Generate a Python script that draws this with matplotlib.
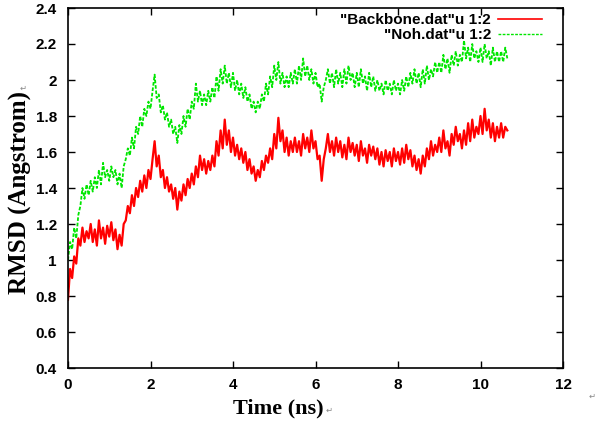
import numpy as np
import matplotlib
matplotlib.use("Agg")
import matplotlib.pyplot as plt
from matplotlib.lines import Line2D

# RMSD, one value every 0.05 ns from t = 0
dt = 0.05
backbone = [
    0.78, 0.95, 0.90, 1.02, 0.98, 1.12, 1.08, 1.18, 1.10, 1.16,
    1.12, 1.20, 1.10, 1.17, 1.08, 1.22, 1.12, 1.18, 1.09, 1.19,
    1.13, 1.21, 1.11, 1.17, 1.06, 1.14, 1.08, 1.20, 1.22, 1.30,
    1.26, 1.36, 1.30, 1.40, 1.35, 1.44, 1.38, 1.47, 1.40, 1.50,
    1.45, 1.56, 1.66, 1.52, 1.58, 1.46, 1.50, 1.40, 1.46, 1.38,
    1.42, 1.34, 1.40, 1.28, 1.38, 1.33, 1.42, 1.36, 1.45, 1.40,
    1.48, 1.42, 1.52, 1.46, 1.58, 1.50, 1.56, 1.48, 1.55, 1.50,
    1.58, 1.52, 1.66, 1.58, 1.72, 1.62, 1.78, 1.64, 1.72, 1.60,
    1.68, 1.58, 1.64, 1.56, 1.62, 1.54, 1.60, 1.50, 1.56, 1.48,
    1.52, 1.44, 1.50, 1.46, 1.55, 1.50, 1.58, 1.54, 1.62, 1.56,
    1.70, 1.62, 1.79, 1.66, 1.72, 1.60, 1.68, 1.58, 1.66, 1.60,
    1.68, 1.60, 1.66, 1.58, 1.70, 1.62, 1.68, 1.60, 1.72, 1.62,
    1.66, 1.56, 1.58, 1.44, 1.56, 1.62, 1.70, 1.60, 1.66, 1.58,
    1.68, 1.60, 1.66, 1.57, 1.64, 1.56, 1.68, 1.60, 1.65, 1.58,
    1.64, 1.55, 1.66, 1.58, 1.62, 1.54, 1.64, 1.58, 1.63, 1.56,
    1.62, 1.53, 1.60, 1.52, 1.61, 1.55, 1.60, 1.52, 1.62, 1.55,
    1.60, 1.53, 1.62, 1.54, 1.64, 1.56, 1.61, 1.52, 1.58, 1.50,
    1.56, 1.48, 1.58, 1.52, 1.62, 1.56, 1.66, 1.58, 1.64, 1.60,
    1.68, 1.60, 1.72, 1.62, 1.66, 1.58, 1.70, 1.64, 1.74, 1.66,
    1.70, 1.62, 1.72, 1.64, 1.76, 1.66, 1.78, 1.68, 1.74, 1.70,
    1.80, 1.70, 1.84, 1.72, 1.78, 1.68, 1.76, 1.66, 1.74, 1.68,
    1.76, 1.68, 1.74, 1.72,
]
noh = [
    1.00, 1.10, 1.06, 1.18, 1.12, 1.25, 1.30, 1.40, 1.34, 1.42,
    1.36, 1.44, 1.38, 1.46, 1.40, 1.50, 1.42, 1.54, 1.46, 1.50,
    1.44, 1.52, 1.46, 1.50, 1.42, 1.48, 1.40, 1.52, 1.56, 1.62,
    1.58, 1.68, 1.62, 1.74, 1.70, 1.80, 1.74, 1.84, 1.80, 1.88,
    1.84, 1.94, 2.03, 1.90, 1.92, 1.82, 1.86, 1.78, 1.82, 1.74,
    1.78, 1.70, 1.74, 1.65, 1.75, 1.70, 1.80, 1.74, 1.84, 1.78,
    1.88, 1.84, 1.98, 1.88, 1.94, 1.86, 1.92, 1.86, 1.94, 1.88,
    1.96, 1.90, 2.02, 1.94, 2.06, 1.98, 2.08, 1.98, 2.04, 1.96,
    2.04, 1.94, 2.00, 1.92, 1.98, 1.90, 1.96, 1.88, 1.92, 1.84,
    1.88, 1.82, 1.88, 1.84, 1.92, 1.88, 1.98, 1.92, 2.02, 1.96,
    2.08, 2.00, 2.10, 1.98, 2.04, 1.96, 2.02, 1.96, 2.04, 1.98,
    2.06, 1.98, 2.08, 2.00, 2.12, 2.02, 2.08, 2.00, 2.06, 1.98,
    2.04, 1.96, 1.98, 1.88, 1.96, 2.00, 2.06, 1.98, 2.04, 1.96,
    2.06, 1.98, 2.04, 1.96, 2.06, 1.98, 2.08, 2.00, 2.04, 1.96,
    2.04, 1.96, 2.06, 1.98, 2.02, 1.94, 2.04, 1.96, 2.02, 1.94,
    2.00, 1.94, 1.98, 1.92, 2.00, 1.94, 1.98, 1.92, 2.00, 1.94,
    1.98, 1.92, 2.00, 1.94, 2.02, 1.96, 2.04, 1.98, 2.06, 1.98,
    2.04, 1.96, 2.06, 1.98, 2.08, 2.00, 2.06, 2.02, 2.10, 2.04,
    2.10, 2.04, 2.14, 2.06, 2.12, 2.04, 2.14, 2.08, 2.16, 2.08,
    2.14, 2.10, 2.22, 2.12, 2.18, 2.10, 2.20, 2.12, 2.16, 2.10,
    2.18, 2.10, 2.20, 2.12, 2.16, 2.08, 2.18, 2.10, 2.16, 2.10,
    2.16, 2.10, 2.18, 2.12,
]
labels = ['"Backbone.dat"u 1:2', '"Noh.dat"u 1:2']
xticks = [0, 2, 4, 6, 8, 10, 12]
yticks = [0.4, 0.6, 0.8, 1.0, 1.2, 1.4, 1.6, 1.8, 2.0, 2.2, 2.4]
yticklabels = ["0.4", "0.6", "0.8", "1", "1.2", "1.4", "1.6", "1.8", "2", "2.2", "2.4"]

red = "#ff0000"
green = "#00e600"

t_b = np.arange(len(backbone)) * dt
t_n = np.arange(len(noh)) * dt

fig = plt.figure(figsize=(6, 4.3), dpi=100)
ax = fig.add_axes([68 / 600, 62 / 430, 495 / 600, 360 / 430])

ax.plot(t_b, backbone, color=red, lw=1.6)
ax.plot(t_n, noh, color=green, lw=1.3, ls=(0, (2, 1)))

ax.set_xlim(0, 12)
ax.set_ylim(0.4, 2.4)
ax.set_xticks(xticks)
ax.set_xticklabels([str(v) for v in xticks])
ax.set_yticks(yticks)
ax.set_yticklabels(yticklabels)
ax.tick_params(direction="in", top=True, right=True, length=5, width=1)
ax.tick_params(axis="y", pad=8)
ax.tick_params(axis="x", pad=7)
for lab in ax.get_xticklabels() + ax.get_yticklabels():
    lab.set_fontfamily("Liberation Sans")
    lab.set_fontweight("bold")
    lab.set_fontsize(11)
for sp in ax.spines.values():
    sp.set_linewidth(1.2)

handles = [Line2D([], [], color=red, lw=1.2),
           Line2D([], [], color=green, lw=1.0, ls=(0, (2, 1)))]
ax.legend(handles, labels, loc="upper right", bbox_to_anchor=(0.958, 0.985),
          frameon=False, markerfirst=False, handlelength=2.9, handletextpad=0.45,
          labelspacing=0.05, borderpad=0, borderaxespad=0,
          prop={"family": "Liberation Sans", "weight": "bold", "size": 11})

# axis titles, placed as in the source document
fig.text(278 / 600, 1 - 408 / 430, "Time (ns)", ha="center", va="center",
         family="Liberation Serif", weight="bold", fontsize=16)
fig.text(20 / 600, 1 - 193 / 430, "RMSD (Angstrom)", ha="center", va="center",
         rotation=90, family="Liberation Serif", weight="bold", fontsize=18)
for x, y in [(329, 410), (23, 88), (592, 396)]:
    fig.text(x / 600, 1 - y / 430, "\u21b5", ha="center", va="center",
             fontsize=6, color="#888888")

fig.savefig("out.png", dpi=100)
